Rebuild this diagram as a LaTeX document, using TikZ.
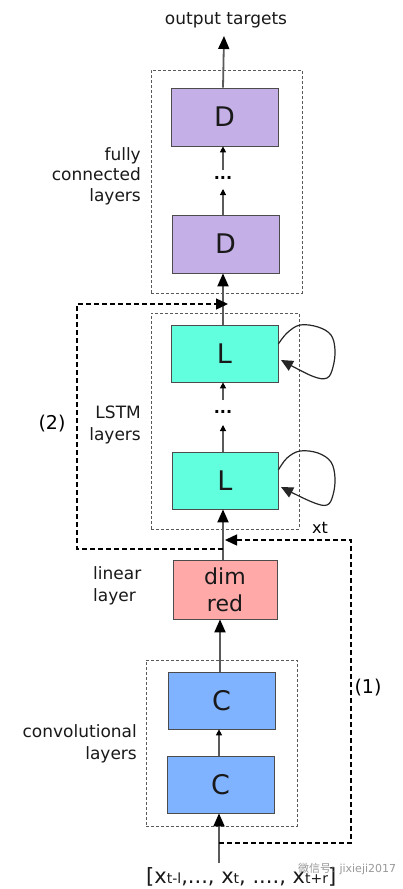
\documentclass[tikz,border=0pt]{standalone}
\usepackage{fontspec}
\setmainfont{DejaVu Sans}
\newfontfamily\cjkfont{Noto Sans CJK SC}
\usetikzlibrary{arrows.meta}
\definecolor{dcol}{HTML}{C4AFE6}
\definecolor{lcol}{HTML}{62FFDF}
\definecolor{rcol}{HTML}{FFA9A9}
\definecolor{ccol}{HTML}{80B3FF}
\definecolor{lgray}{HTML}{5A5A5A}
\newcommand\bigfs{\fontsize{21}{24}\selectfont}
\newcommand\smfs{\fontsize{14}{16}\selectfont}
\tikzset{
  layerbox/.style={draw=black!70, line width=0.7pt, minimum width=107pt, minimum height=58pt,
    inner sep=0pt, font=\fontsize{27}{28}\selectfont, text=black!90},
  grp/.style={draw=black!65, line width=0.7pt, dash pattern=on 3pt off 2pt, inner sep=0pt},
  lbl/.style={font=\fontsize{17}{21.5}\selectfont, text=black!90, inner sep=0pt},
  mainarrow/.style={draw=lgray, line width=1.8pt, -{Triangle[length=13pt,width=11pt,color=black]}},
  smallarrow/.style={draw=lgray, line width=1.1pt, -{Triangle[length=6pt,width=6pt,color=black]}},
  fb/.style={draw=black, line width=1.4pt, dash pattern=on 5pt off 3pt, -{Triangle[length=12pt,width=11pt]}},
  loopar/.style={draw=black!85, line width=1.2pt, -{Triangle[length=12pt,width=11pt]}},
  dotsn/.style={font=\fontsize{16}{18}\selectfont\bfseries, inner sep=0pt}
}
\begin{document}
\begin{tikzpicture}[x=1pt,y=-1pt]
\useasboundingbox (0,0) rectangle (403,889);
\fill[white] (0,0) rectangle (403,889);

% group boxes
\node[grp, minimum width=151pt, minimum height=223pt] (fcg) at (226.5,181.5) {};
\node[grp, minimum width=148pt, minimum height=216pt] (lsg) at (225,421) {};
\node[grp, minimum width=151pt, minimum height=166pt] (cvg) at (221.5,743) {};

% layer boxes
\node[layerbox, fill=dcol] (D1) at (224.5,117) {D};
\node[layerbox, fill=dcol] (D2) at (225.5,244) {D};
\node[layerbox, fill=lcol, minimum height=57pt] (L1) at (224.5,353.5) {L};
\node[layerbox, fill=lcol, minimum height=57pt, minimum width=106pt] (L2) at (225,480.5) {L};
\node[layerbox, fill=rcol, minimum width=104pt, minimum height=59pt, align=center,
      font=\fontsize{22}{27}\selectfont] (dim) at (225,589.5) {dim\\red};
\node[layerbox, fill=ccol, minimum height=57pt] (C1) at (221.5,700.5) {C};
\node[layerbox, fill=ccol, minimum height=57pt] (C2) at (220.5,784.5) {C};

% dots
\node[dotsn] (dD) at (223,178) {...};
\node[dotsn] (dL) at (223,412) {...};

% labels
\node[lbl] (outt) at (226,20) {output targets};
\node[lbl, anchor=east, align=right, font=\fontsize{17}{20.5}\selectfont] (fcl) at (141,176) {fully\\connected\\layers};
\node[lbl, anchor=east, align=right] (lsl) at (141,425) {LSTM\\layers};
\node[lbl, anchor=west, align=left] (lil) at (93,586) {linear\\layer};
\node[lbl, anchor=east, align=right] (cvl) at (137,744) {convolutional\\layers};
\node[font=\fontsize{19}{20}\selectfont, inner sep=0pt] (two) at (52,424) {(2)};
\node[font=\fontsize{19}{20}\selectfont, inner sep=0pt] (one) at (368,688) {(1)};
\node[font=\fontsize{16}{18}\selectfont, inner sep=0pt] (xt) at (320,528) {xt};
\node[anchor=base west, inner sep=0pt, text=black!90] (inp) at (146,883)
  {{\bigfs[x}{\smfs t-l}{\bigfs,..., x}{\smfs t}{\bigfs, ...., x}{\smfs t+r}{\bigfs]}};
\node[anchor=west, inner sep=0pt, text=black!40, font=\fontsize{11}{13}\selectfont] (wm) at (298,869)
  {{\cjkfont 微信号}: jixieji2017};

% coordinates on the main line
\coordinate (inbot) at (219,863);
\coordinate (j1s) at (219,843);
\coordinate (j1e) at (225,540);
\coordinate (j2s) at (223,549);
\coordinate (j2e) at (228,304);
\coordinate (outb) at (224,36);

% main connectors
\draw[mainarrow] (inbot) -- (inbot |- C2.south);
\draw[smallarrow] (C2.north -| inbot) -- (C1.south -| inbot);
\draw[mainarrow] (C1.north -| 220,0) -- (dim.south -| 220,0);
\draw[mainarrow] (dim.north -| j2s) -- (L2.south -| j2s);
\draw[smallarrow] (L2.north -| j2s) -- ([yshift=-13pt]dL.center -| j2s);
\draw[smallarrow] ([yshift=12pt]dL.center -| j2s) -- (L1.south -| j2s);
\draw[mainarrow] (L1.north -| j2s) -- (D2.south -| j2s);
\draw[smallarrow] (D2.north -| j2s) -- ([yshift=-11pt]dD.center -| j2s);
\draw[smallarrow] ([yshift=8pt]dD.center -| j2s) -- (D1.south -| j2s);
\draw[mainarrow] (D1.north -| j2s) -- (outb);

% feedback paths
\draw[fb] (j1s) -- (351,843) |- (j1e);
\draw[fb] (j2s) -- (77,549) |- (j2e);

% recurrent self loops
\draw[loopar] plot[smooth, tension=0.6] coordinates {(L1.east |- 0,344) (287,333) (300,325) (318,327) (331,335) (335,350) (333,367) (327,378) (312,376) (281,360)};
\draw[loopar] plot[smooth, tension=0.6] coordinates {(L2.east |- 0,470) (287,458) (300,451) (318,453) (331,462) (335,478) (333,495) (327,505) (312,502) (281,487)};
\end{tikzpicture}
\end{document}
